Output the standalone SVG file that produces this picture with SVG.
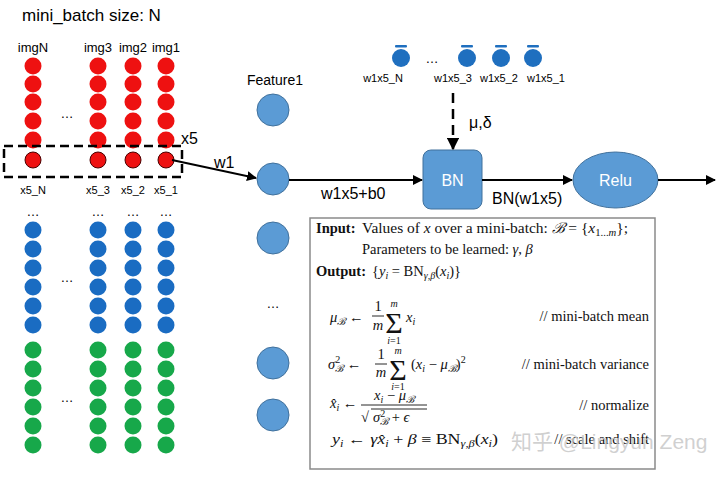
<svg xmlns="http://www.w3.org/2000/svg" width="720" height="478" viewBox="0 0 720 478">
<defs>
<style>
.t{font-family:"Liberation Sans",Arial,sans-serif;fill:#000}
.m{font-family:"Liberation Serif","DejaVu Serif",serif;fill:#111;font-size:14.5px}
.s{font-size:10px}
.sg{font-size:30px}
.i{font-style:italic}
.r{fill:#ee1111}
.b{fill:#1a6cc2}
.g{fill:#17a84a}
.f{fill:#5b9bd5;stroke:#41719c;stroke-width:1}
.tb{fill:#1f6fbf}
.ln{stroke:#000;stroke-width:2;fill:none}
.fr{stroke:#111;stroke-width:0.9}
</style>
<marker id="ah" viewBox="0 0 10 10" refX="9" refY="5" markerWidth="5" markerHeight="5" orient="auto" markerUnits="strokeWidth">
<path d="M0,0 L10,5 L0,10 z" fill="#000"/>
</marker>
</defs>
<rect width="720" height="478" fill="#fff"/>

<text class="t" x="22" y="21" font-size="17">mini_batch size: N</text>

<g id="matrix">
<g class="t" font-size="13" text-anchor="middle">
<text x="33" y="52">imgN</text><text x="98" y="52">img3</text><text x="133" y="52">img2</text><text x="166" y="52">img1</text>
</g>
<g class="r">
<circle cx="33" cy="66" r="8.5"/><circle cx="98" cy="66" r="8.5"/><circle cx="133" cy="66" r="8.5"/><circle cx="166" cy="66" r="8.5"/>
<circle cx="33" cy="84" r="8.5"/><circle cx="98" cy="84" r="8.5"/><circle cx="133" cy="84" r="8.5"/><circle cx="166" cy="84" r="8.5"/>
<circle cx="33" cy="102" r="8.5"/><circle cx="98" cy="102" r="8.5"/><circle cx="133" cy="102" r="8.5"/><circle cx="166" cy="102" r="8.5"/>
<circle cx="33" cy="121" r="8.5"/><circle cx="98" cy="121" r="8.5"/><circle cx="133" cy="121" r="8.5"/><circle cx="166" cy="121" r="8.5"/>
<circle cx="33" cy="140" r="8.5"/><circle cx="98" cy="140" r="8.5"/><circle cx="133" cy="140" r="8.5"/><circle cx="166" cy="140" r="8.5"/>
</g>
<g class="r" stroke="#4a0000" stroke-width="1">
<circle cx="33" cy="160" r="8"/><circle cx="98" cy="160" r="8"/><circle cx="133" cy="160" r="8"/><circle cx="166" cy="160" r="8"/>
</g>
<text class="t" x="67" y="118" font-size="13" text-anchor="middle">…</text>
<rect x="4" y="146" width="178" height="31" fill="none" stroke="#000" stroke-width="2.5" stroke-dasharray="9,5"/>
<text class="t" x="181" y="144" font-size="16">x5</text>
<g class="t" font-size="11" text-anchor="middle">
<text x="33" y="194">x5_N</text><text x="98" y="194">x5_3</text><text x="133" y="194">x5_2</text><text x="166" y="194">x5_1</text>
</g>
<g class="t" font-size="13" text-anchor="middle">
<text x="33" y="216">…</text><text x="98" y="216">…</text><text x="133" y="216">…</text><text x="166" y="216">…</text>
<text x="67" y="282">…</text><text x="67" y="402">…</text>
</g>
<g class="b">
<circle cx="33" cy="230" r="8.5"/><circle cx="98" cy="230" r="8.5"/><circle cx="133" cy="230" r="8.5"/><circle cx="166" cy="230" r="8.5"/>
<circle cx="33" cy="249" r="8.5"/><circle cx="98" cy="249" r="8.5"/><circle cx="133" cy="249" r="8.5"/><circle cx="166" cy="249" r="8.5"/>
<circle cx="33" cy="268" r="8.5"/><circle cx="98" cy="268" r="8.5"/><circle cx="133" cy="268" r="8.5"/><circle cx="166" cy="268" r="8.5"/>
<circle cx="33" cy="287" r="8.5"/><circle cx="98" cy="287" r="8.5"/><circle cx="133" cy="287" r="8.5"/><circle cx="166" cy="287" r="8.5"/>
<circle cx="33" cy="306" r="8.5"/><circle cx="98" cy="306" r="8.5"/><circle cx="133" cy="306" r="8.5"/><circle cx="166" cy="306" r="8.5"/>
<circle cx="33" cy="325" r="8.5"/><circle cx="98" cy="325" r="8.5"/><circle cx="133" cy="325" r="8.5"/><circle cx="166" cy="325" r="8.5"/>
</g>
<g class="g">
<circle cx="33" cy="350" r="8.5"/><circle cx="98" cy="350" r="8.5"/><circle cx="133" cy="350" r="8.5"/><circle cx="166" cy="350" r="8.5"/>
<circle cx="33" cy="369" r="8.5"/><circle cx="98" cy="369" r="8.5"/><circle cx="133" cy="369" r="8.5"/><circle cx="166" cy="369" r="8.5"/>
<circle cx="33" cy="388" r="8.5"/><circle cx="98" cy="388" r="8.5"/><circle cx="133" cy="388" r="8.5"/><circle cx="166" cy="388" r="8.5"/>
<circle cx="33" cy="407" r="8.5"/><circle cx="98" cy="407" r="8.5"/><circle cx="133" cy="407" r="8.5"/><circle cx="166" cy="407" r="8.5"/>
<circle cx="33" cy="426" r="8.5"/><circle cx="98" cy="426" r="8.5"/><circle cx="133" cy="426" r="8.5"/><circle cx="166" cy="426" r="8.5"/>
<circle cx="33" cy="445" r="8.5"/><circle cx="98" cy="445" r="8.5"/><circle cx="133" cy="445" r="8.5"/><circle cx="166" cy="445" r="8.5"/>
</g>
</g>

<g id="features">
<text class="t" x="275" y="85" font-size="14" text-anchor="middle">Feature1</text>
<circle class="f" cx="273" cy="110" r="16"/>
<circle class="f" cx="273" cy="179" r="16"/>
<circle class="f" cx="273" cy="238" r="16"/>
<text class="t" x="273" y="308" font-size="13" text-anchor="middle">…</text>
<circle class="f" cx="273" cy="363" r="16"/>
<circle class="f" cx="273" cy="415" r="16"/>
</g>

<g id="batch-outputs">
<g class="tb">
<circle cx="401" cy="58" r="9"/><circle cx="467" cy="58" r="9"/><circle cx="501" cy="58" r="9"/><circle cx="533" cy="58" r="9"/>
<rect x="395" y="45" width="12" height="2.5" rx="1"/><rect x="461" y="45" width="12" height="2.5" rx="1"/><rect x="495" y="45" width="12" height="2.5" rx="1"/><rect x="527" y="45" width="12" height="2.5" rx="1"/>
</g>
<text class="t" x="432" y="63" font-size="13" text-anchor="middle">…</text>
<g class="t" font-size="11" text-anchor="middle">
<text x="383" y="82">w1x5_N</text><text x="453" y="82">w1x5_3</text><text x="499" y="82">w1x5_2</text><text x="546" y="82">w1x5_1</text>
</g>
</g>

<g id="bn">
<rect x="423" y="150" width="59" height="59" rx="8" fill="#5b9bd5" stroke="#41719c" stroke-width="1"/>
<text x="452.5" y="186" font-size="16" fill="#fff" font-family="Liberation Sans,Arial,sans-serif" text-anchor="middle">BN</text>
</g>

<g id="relu">
<ellipse cx="615.5" cy="180" rx="42.5" ry="28" fill="#5b9bd5" stroke="#41719c" stroke-width="1"/>
<text x="615.5" y="186" font-size="16" fill="#fff" font-family="Liberation Sans,Arial,sans-serif" text-anchor="middle">Relu</text>
</g>

<g id="connectors">
<line class="ln" x1="172" y1="160" x2="256" y2="178" marker-end="url(#ah)"/>
<text class="t" x="214" y="168" font-size="16">w1</text>
<line class="ln" x1="289" y1="180" x2="422" y2="180" marker-end="url(#ah)"/>
<text class="t" x="321" y="199" font-size="16">w1x5+b0</text>
<line class="ln" x1="482" y1="180" x2="572" y2="180" marker-end="url(#ah)"/>
<text class="t" x="492" y="204" font-size="16">BN(w1x5)</text>
<line class="ln" x1="658" y1="180" x2="715" y2="180" marker-end="url(#ah)"/>
<line x1="453" y1="93" x2="453" y2="149" stroke="#000" stroke-width="2.5" stroke-dasharray="10,6" marker-end="url(#ah)"/>
<text class="t" x="469" y="128" font-size="16">μ,δ</text>
</g>

<g id="algorithm">
<rect x="310" y="218" width="345" height="251" fill="#fff" stroke="#8a8a8a" stroke-width="1.5"/>
<text class="m" x="316" y="233" font-weight="bold">Input:</text>
<text class="m" x="362" y="233" textLength="266" lengthAdjust="spacingAndGlyphs">Values of <tspan class="i">x</tspan> over a mini-batch: <tspan class="i">ℬ</tspan> = {<tspan class="i">x</tspan><tspan class="s" dy="3">1...<tspan class="i">m</tspan></tspan><tspan dy="-3">};</tspan></text>
<text class="m" x="362" y="254">Parameters to be learned: <tspan class="i">γ</tspan>, <tspan class="i">β</tspan></text>
<text class="m" x="316" y="276" font-weight="bold">Output:</text>
<text class="m" x="372" y="276">{<tspan class="i">y</tspan><tspan class="i s" dy="3">i</tspan><tspan dy="-3"> = BN</tspan><tspan class="i s" dy="3">γ,β</tspan><tspan dy="-3">(</tspan><tspan class="i">x</tspan><tspan class="i s" dy="3">i</tspan><tspan dy="-3">)}</tspan></text>

<text class="m" x="330" y="322"><tspan class="i">μ</tspan><tspan class="i s" dy="3">ℬ</tspan><tspan dy="-3"> ←</tspan></text>
<text class="m" x="378" y="311" text-anchor="middle">1</text>
<line class="fr" x1="372" y1="316" x2="384" y2="316"/>
<text class="m i" x="378" y="330" text-anchor="middle">m</text>
<text class="m sg" x="394" y="333" text-anchor="middle">Σ</text>
<text class="m i s" x="394" y="307" text-anchor="middle">m</text>
<text class="m s" x="394" y="344" text-anchor="middle"><tspan class="i">i</tspan>=1</text>
<text class="m" x="406" y="322"><tspan class="i">x</tspan><tspan class="i s" dy="3">i</tspan></text>
<text class="m" x="649" y="321" text-anchor="end">// mini-batch mean</text>

<text class="m" x="328" y="369"><tspan class="i">σ</tspan><tspan class="s" dy="-6">2</tspan><tspan class="i s" dx="-5" dy="9">ℬ</tspan><tspan dy="-3"> ←</tspan></text>
<text class="m" x="381" y="359" text-anchor="middle">1</text>
<line class="fr" x1="375" y1="364" x2="387" y2="364"/>
<text class="m i" x="381" y="377" text-anchor="middle">m</text>
<text class="m sg" x="398" y="380" text-anchor="middle">Σ</text>
<text class="m i s" x="398" y="354" text-anchor="middle">m</text>
<text class="m s" x="398" y="390" text-anchor="middle"><tspan class="i">i</tspan>=1</text>
<text class="m" x="411" y="369">(<tspan class="i">x</tspan><tspan class="i s" dy="3">i</tspan><tspan dy="-3"> − </tspan><tspan class="i">μ</tspan><tspan class="i s" dy="3">ℬ</tspan><tspan dy="-3">)</tspan><tspan class="s" dy="-6">2</tspan></text>
<text class="m" x="649" y="369" text-anchor="end">// mini-batch variance</text>

<text class="m" x="330" y="408"><tspan class="i">x̂</tspan><tspan class="i s" dy="3">i</tspan><tspan dy="-3"> ←</tspan></text>
<text class="m" x="394" y="400" text-anchor="middle"><tspan class="i">x</tspan><tspan class="i s" dy="3">i</tspan><tspan dy="-3"> − </tspan><tspan class="i">μ</tspan><tspan class="i s" dy="3">ℬ</tspan></text>
<line class="fr" x1="361" y1="405" x2="427" y2="405"/>
<text class="m" x="361" y="422">√</text>
<line class="fr" x1="371" y1="409" x2="427" y2="409"/>
<text class="m" x="373" y="422"><tspan class="i">σ</tspan><tspan class="s" dy="-5">2</tspan><tspan class="i s" dx="-5" dy="8">ℬ</tspan><tspan dy="-3"> + </tspan><tspan class="i">ϵ</tspan></text>
<text class="m" x="649" y="410" text-anchor="end">// normalize</text>

<text class="m" x="332" y="444" textLength="166" lengthAdjust="spacingAndGlyphs"><tspan class="i">y</tspan><tspan class="i s" dy="3">i</tspan><tspan dy="-3"> ← </tspan><tspan class="i">γx̂</tspan><tspan class="i s" dy="3">i</tspan><tspan dy="-3"> + </tspan><tspan class="i">β</tspan> ≡ BN<tspan class="i s" dy="3">γ,β</tspan><tspan dy="-3">(</tspan><tspan class="i">x</tspan><tspan class="i s" dy="3">i</tspan><tspan dy="-3">)</tspan></text>
<text class="m" x="649" y="444" text-anchor="end">// scale and shift</text>
</g>

<text x="511" y="449" font-size="21" fill="#c8c8c8" fill-opacity="0.85" font-family="Liberation Sans,Noto Sans CJK SC,sans-serif">知乎 @Lingyun Zeng</text>
</svg>
